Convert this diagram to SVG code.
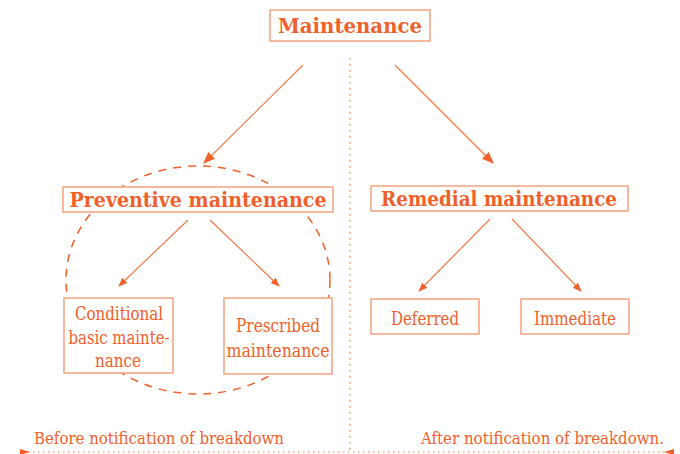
<svg xmlns="http://www.w3.org/2000/svg" width="680" height="454" viewBox="0 0 680 454">
<style>
.box{fill:#fff;stroke:#F5A27E;stroke-width:1.5}
.t{font-family:"DejaVu Serif","Liberation Serif",serif;fill:#F0602A;text-anchor:middle}
.b{font-weight:bold;font-size:20px}
.s{font-size:18px;font-stretch:condensed}
.ln{stroke:#F27A4A;stroke-width:1.2;fill:none}
</style>
<defs>
<marker id="ah" viewBox="0 0 10 10" refX="9" refY="5" markerWidth="9" markerHeight="9" markerUnits="userSpaceOnUse" orient="auto">
<path d="M0,1 L10,5 L0,9 Z" fill="#F0602A"/>
</marker>
<marker id="ah2" viewBox="0 0 10 10" refX="9" refY="5" markerWidth="12" markerHeight="12" markerUnits="userSpaceOnUse" orient="auto">
<path d="M0,1 L10,5 L0,9 Z" fill="#F0602A"/>
</marker>
</defs>
<g id="connectors">
<line class="ln" x1="350" y1="58" x2="350" y2="454" stroke-dasharray="1.5 4.5" stroke="#F5A27E"/>
<line class="ln" x1="28" y1="452" x2="666" y2="452" stroke-dasharray="1.5 3.5" stroke="#F5A27E"/>
<path d="M30,452 L20,449 L20,455 Z" fill="#F0602A"/>
<path d="M664,452 L674,449 L674,455 Z" fill="#F0602A"/>
<ellipse cx="198" cy="280" rx="132" ry="114" fill="none" stroke="#F0602A" stroke-width="1.5" stroke-dasharray="8 7"/>
<line class="ln" x1="303" y1="65" x2="204" y2="163" marker-end="url(#ah2)"/>
<line class="ln" x1="395" y1="65" x2="493" y2="163" marker-end="url(#ah2)"/>
<line class="ln" x1="188" y1="220" x2="119" y2="286" marker-end="url(#ah)"/>
<line class="ln" x1="210" y1="220" x2="279" y2="286" marker-end="url(#ah)"/>
<line class="ln" x1="490" y1="219" x2="419" y2="291" marker-end="url(#ah)"/>
<line class="ln" x1="512" y1="219" x2="581" y2="291" marker-end="url(#ah)"/>
</g>
<g id="maintenance">
<rect class="box" x="270" y="10" width="160" height="31"/>
<text class="t b" x="350" y="33" font-size="21" textLength="144" lengthAdjust="spacingAndGlyphs">Maintenance</text>
</g>
<g id="preventive">
<rect class="box" x="63" y="187" width="270" height="25"/>
<text class="t b" x="198" y="207" textLength="257" lengthAdjust="spacingAndGlyphs">Preventive maintenance</text>
</g>
<g id="remedial">
<rect class="box" x="371" y="186" width="257" height="25"/>
<text class="t b" x="499" y="206" textLength="236" lengthAdjust="spacingAndGlyphs">Remedial maintenance</text>
</g>
<g id="conditional">
<rect class="box" x="64" y="298" width="109" height="75"/>
<text class="t s" x="119" y="320" textLength="88" lengthAdjust="spacingAndGlyphs">Conditional</text>
<text class="t s" x="119" y="344" textLength="101" lengthAdjust="spacingAndGlyphs">basic mainte-</text>
<text class="t s" x="118" y="367" textLength="46" lengthAdjust="spacingAndGlyphs">nance</text>
</g>
<g id="prescribed">
<rect class="box" x="224" y="298" width="108" height="76"/>
<text class="t s" x="278" y="332" textLength="84" lengthAdjust="spacingAndGlyphs">Prescribed</text>
<text class="t s" x="278" y="357" textLength="103" lengthAdjust="spacingAndGlyphs">maintenance</text>
</g>
<g id="deferred">
<rect class="box" x="371" y="299" width="108" height="35"/>
<text class="t s" x="425" y="325" textLength="68" lengthAdjust="spacingAndGlyphs">Deferred</text>
</g>
<g id="immediate">
<rect class="box" x="521" y="299" width="108" height="35"/>
<text class="t s" x="575" y="325" textLength="82" lengthAdjust="spacingAndGlyphs">Immediate</text>
</g>
<g id="labels">
<text class="t s" x="34" y="444" font-size="16" text-anchor="start" style="text-anchor:start;font-size:16px" textLength="250" lengthAdjust="spacingAndGlyphs">Before notification of breakdown</text>
<text class="t s" x="664" y="444" font-size="16" text-anchor="end" style="text-anchor:end;font-size:16px" textLength="243" lengthAdjust="spacingAndGlyphs">After notification of breakdown.</text>
</g>
</svg>
